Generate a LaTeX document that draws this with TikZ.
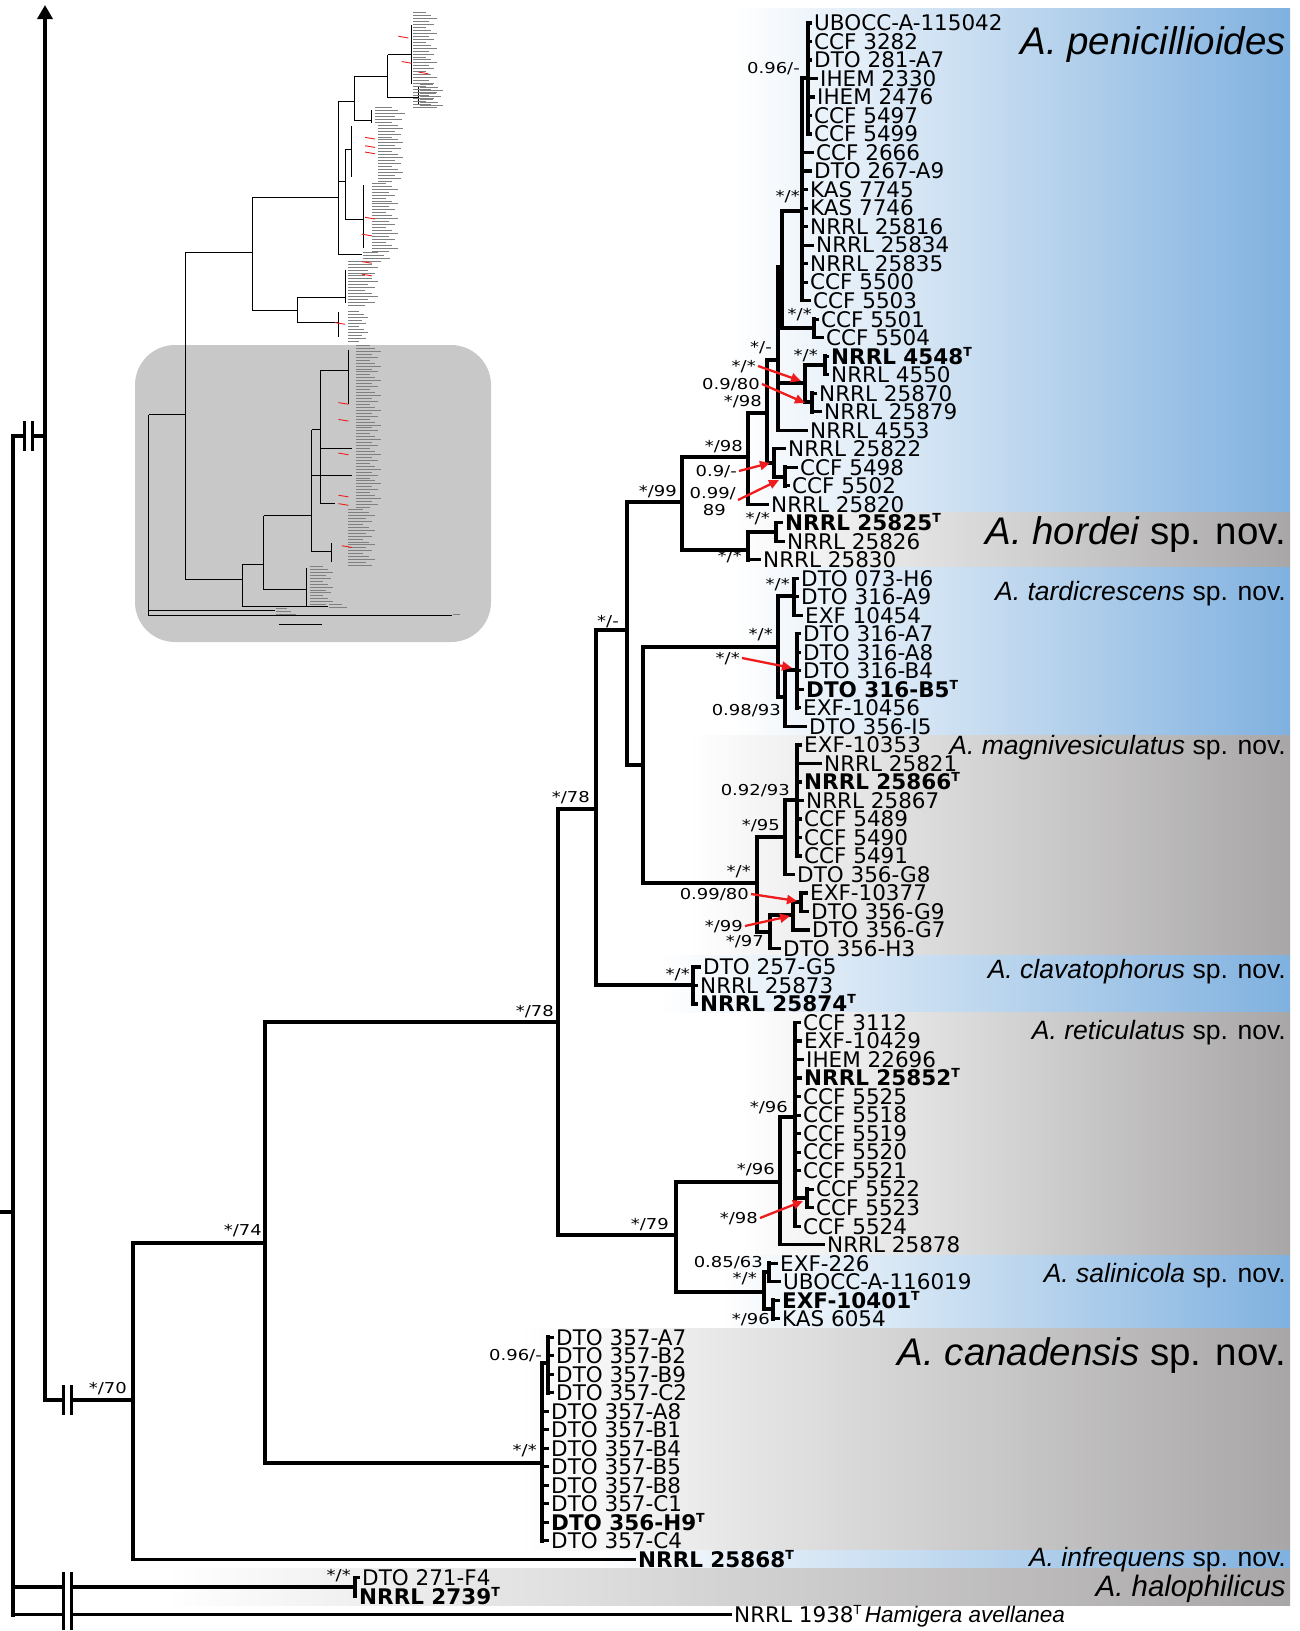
\documentclass[tikz,border=0pt]{standalone}
\usepackage{fontspec}
\setmainfont{DejaVu Sans}
\newfontfamily\supfont[FakeStretch=1.2]{DejaVu Sans}
\newfontfamily\spfont{Liberation Sans}
\usetikzlibrary{arrows.meta,calc}
\definecolor{bandblue}{HTML}{80B1DF}
\definecolor{bandgrey}{HTML}{A8A6A6}
\definecolor{thumbgrey}{HTML}{C8C8C8}
\definecolor{arrowred}{HTML}{EE1C1C}
\newcommand\tsup{\raisebox{8pt}{\fontsize{12.5}{12.5}\selectfont T}}
\newcommand\txfont{\fontsize{21.5}{22}\selectfont}
\newcommand\supsize{\supfont\fontsize{15}{15}\selectfont}
\newcommand\spbig{\spfont\fontsize{38.5}{39}\selectfont}
\newcommand\spmed{\spfont\fontsize{26.5}{27}\selectfont}
\newcommand\clade[6]{%
  \coordinate (#1) at ({#2},{#3});
  \draw[br] ({#2},{#4}) -- ({#2},{#5});
  \draw[br] (#6 |- #1) -- (#1);}
\newcommand\tip[5]{%
  \node[taxon] (#1) at ({#4-2.5},{ry(#3)}) {#5};
  \draw[tipl] (#2 |- #1.west) -- (#1.west);}
\newcommand\sv[4]{\node[sup] (#1) at ({#2},{#3}) {#4};}
\newcommand\brk[2]{%
  \fill[white] ({#1},{#2-3}) rectangle ({#1+8},{#2+3});
  \draw[brkl] ({#1},{#2-15}) -- ({#1},{#2+15});
  \draw[brkl] ({#1+8},{#2-15}) -- ({#1+8},{#2+15});}
\newcommand\lblcol[4]{%
  \foreach \k in {0,...,#3}{%
    \pgfmathsetmacro\ll{#4*(0.55+0.45*mod(\k*7,5)/4)}
    \draw[thlab] ({#1},{#2+7*\k}) -- ++(\ll,0);}}
\begin{document}
\begin{tikzpicture}[x=1pt,y=-1pt,
  declare function={ry(\n)=23+18.51*(\n-1);},
  br/.style={line width=3.6pt,line cap=rect},
  tipl/.style={line width=3.2pt,line cap=butt},
  brkl/.style={line width=3.6pt,line cap=butt},
  taxon/.style={anchor=west,inner xsep=2.5pt,inner ysep=0pt,font=\txfont,text height=15.7pt,text depth=0pt},
  sup/.style={anchor=east,inner sep=0pt,text height=11pt,text depth=0pt,font=\supsize},
  spl/.style={anchor=base east,inner sep=0pt},
  redarr/.style={draw=arrowred,line width=2.3pt,-{Triangle[length=10pt,width=9pt]}},
  thl/.style={line width=0.7pt},
  thlab/.style={line width=0.8pt,draw=black!50}]
\useasboundingbox (0,0) rectangle (1300,1631);
\fill[white] (0,0) rectangle (1300,1631);
% ---------- bands
\shade[left color=white,right color=bandblue] (735,8) rectangle (1290,512);
\shade[left color=white,right color=bandgrey] (735,512) rectangle (1290,567);
\shade[left color=white,right color=bandblue] (735,567) rectangle (1290,735);
\shade[left color=white,right color=bandgrey] (690,735) rectangle (1290,955);
\shade[left color=white,right color=bandblue] (660,955) rectangle (1290,1012);
\shade[left color=white,right color=bandgrey] (740,1012) rectangle (1290,1255);
\shade[left color=white,right color=bandblue] (720,1255) rectangle (1290,1328);
\shade[left color=white,right color=bandgrey] (520,1328) rectangle (1290,1550);
\shade[left color=white,right color=bandblue] (600,1550) rectangle (1290,1568);
\shade[left color=white,right color=bandgrey] (165,1568) rectangle (1290,1605);
% ---------- thumbnail
\fill[thumbgrey,rounded corners=40pt] (135,345) rectangle (491,642);
\begin{scope}[shift={(118.7,0.1)},xscale=0.333,yscale=0.421]
  \draw[thl] (90,985)--(90,1462);
  \draw[thl] (90,985)--(200,985) (200,600)--(200,1375);
  \draw[thl] (200,600)--(400,600) (400,468)--(400,738);
  \draw[thl] (400,468)--(660,468) (660,240)--(660,605);
  \draw[thl] (660,240)--(708,240) (708,180)--(708,285);
  \draw[thl] (708,180)--(808,180) (808,130)--(808,232);
  \draw[thl] (808,130)--(880,130) (880,60)--(880,200);
  \draw[thl] (808,232)--(900,232) (900,205)--(900,250);
  \draw[thl] (708,285)--(760,285) (760,262)--(760,292);
  \draw[thl] (660,430)--(680,430) (680,355)--(680,520);
  \draw[thl] (680,355)--(700,355) (700,300)--(700,420);
  \draw[thl] (680,520)--(735,520) (735,440)--(735,590);
  \draw[thl] (660,605)--(730,605);
  \draw[thl] (400,738)--(535,738) (535,705)--(535,765);
  \draw[thl] (535,705)--(680,705) (680,640)--(680,720);
  \draw[thl] (535,765)--(660,765) (660,740)--(660,800);
  \draw[thl] (200,1375)--(370,1375) (370,1340)--(370,1440);
  \draw[thl] (370,1440)--(630,1440);
  \draw[thl] (370,1340)--(435,1340) (435,1225)--(435,1400);
  \draw[thl] (435,1400)--(565,1400) (565,1350)--(565,1440);
  \draw[thl] (435,1225)--(580,1225) (580,1020)--(580,1310);
  \draw[thl] (580,1310)--(640,1310) (640,1290)--(640,1335);
  \draw[thl] (580,1020)--(605,1020) (605,880)--(605,1195);
  \draw[thl] (605,1065)--(700,1065) (605,1195)--(650,1195);
  \draw[thl] (605,880)--(690,880) (690,830)--(690,960);
  \draw[thl] (580,1130)--(700,1130);
  \draw[thl] (90,1450)--(470,1450) (90,1462)--(1000,1462);
  \draw[thl] (480,1483)--(610,1483);
  \lblcol{885}{30}{32}{70}
  \lblcol{905}{200}{8}{70}
  \lblcol{770}{255}{5}{90}
  \lblcol{780}{290}{20}{75}
  \lblcol{760}{435}{23}{80}
  \lblcol{735}{600}{3}{80}
  \lblcol{690}{620}{15}{90}
  \lblcol{690}{740}{10}{60}
  \lblcol{712}{820}{55}{75}
  \lblcol{690}{1210}{19}{80}
  \lblcol{575}{1345}{13}{70}
  \lblcol{632}{1436}{1}{70}
  \lblcol{472}{1445}{2}{60}
  \lblcol{1005}{1458}{0}{35}
  \foreach \a/\b in {870/90,880/150,930/175,770/330,770/350,770/365,770/520,760/560,760/625,760/655,680/770,690/960,690/1000,690/1080,690/1180,690/1200,700/1300}
    \draw[arrowred,line width=0.9pt] ({\a-30},{\b-4})--(\a,\b);
\end{scope}
% ---------- backbone
\coordinate (root) at (13,1212);
\draw[br] (13,436) -- (13,{ry(87)});
\draw[br] (0,1212) -- (root);
\coordinate (up) at (45,436);
\draw[br] (root |- up) -- (up);
\draw[line width=3.6pt,-{Triangle[length=14pt,width=15pt]}] (45,1401.8) -- (45,5);
\clade{n70}{133}{1400}{1243}{ry(84)}{up}
\clade{n74}{265}{1243}{1022}{1463}{n70}
\clade{ncan}{542}{1463}{1363}{ry(83)}{n74}
\clade{ncan2}{548}{1363}{ry(72)}{ry(75)}{ncan}
\clade{n78b}{558}{1022}{809}{1235}{n74}
\clade{n78a}{596}{809}{630}{985}{n78b}
\clade{nR1}{627}{630}{502}{765}{n78a}
\clade{n99}{682}{502}{457}{550}{nR1}
\clade{nQ}{748}{457}{413}{ry(27)}{n99}
\clade{nS}{767}{413}{360}{463}{nQ}
\clade{nD}{778}{360}{267}{ry(23)}{nS}
\clade{nE}{782}{267}{211}{328}{nD}
\clade{nB}{802}{211}{78}{ry(16)}{nE}
\clade{nA}{808}{78}{ry(1)}{ry(7)}{nB}
\clade{nF}{814}{328}{ry(17)}{ry(18)}{nE}
\clade{nG}{805}{383}{365}{402}{nD}
\clade{nG1}{825}{365}{ry(19)}{ry(20)}{nG}
\clade{nG2}{812}{402}{ry(21)}{ry(22)}{nG}
\clade{nC}{774}{463}{ry(24)}{477}{nS}
\clade{nC2}{785}{477}{ry(25)}{ry(26)}{nC}
\clade{nhor}{748}{550}{532}{ry(30)}{n99}
\clade{nhor2}{776}{532}{ry(28)}{ry(29)}{nhor}
\clade{nTM}{643}{765}{647}{883}{nR1}
\clade{ntard}{778}{647}{596}{697}{nTM}
\clade{nt1}{794}{596}{ry(31)}{ry(33)}{ntard}
\clade{nt2}{785}{697}{670}{ry(39)}{ntard}
\clade{nt3}{797}{670}{ry(34)}{ry(38)}{nt2}
\clade{nmag}{757}{883}{837}{932}{nTM}
\clade{nm95}{785}{837}{800}{ry(47)}{nmag}
\clade{nm92}{797}{800}{ry(40)}{ry(46)}{nm95}
\clade{nm97}{770}{932}{915}{ry(51)}{nmag}
\clade{nm99}{793}{915}{902}{ry(50)}{nm97}
\clade{nm80}{801}{902}{ry(48)}{ry(49)}{nm99}
\clade{nclav}{693}{985}{ry(52)}{ry(54)}{n78a}
\clade{n79}{676}{1235}{1182}{1292}{n78b}
\clade{n96b}{780}{1182}{1117}{ry(67)}{n79}
\clade{nret}{795}{1117}{ry(55)}{ry(66)}{n96b}
\clade{n98r}{807}{1198}{ry(64)}{ry(65)}{nret}
\clade{nsal}{764}{1292}{1272}{1309}{n79}
\clade{nsal1}{769}{1272}{ry(68)}{ry(69)}{nsal}
\clade{nsal2}{773}{1309}{ry(70)}{ry(71)}{nsal}
\clade{nhal}{355}{1587}{ry(85)}{ry(86)}{root}
% ---------- tips
\tip{t1}{nA}{1}{814}{UBOCC-A-115042}
\tip{t2}{nA}{2}{814}{CCF 3282}
\tip{t3}{nA}{3}{814}{DTO 281-A7}
\tip{t4}{nA}{4}{820}{IHEM 2330}
\tip{t5}{nA}{5}{817}{IHEM 2476}
\tip{t6}{nA}{6}{814}{CCF 5497}
\tip{t7}{nA}{7}{814}{CCF 5499}
\tip{t8}{nB}{8}{816}{CCF 2666}
\tip{t9}{nB}{9}{814}{DTO 267-A9}
\tip{t10}{nB}{10}{810}{KAS 7745}
\tip{t11}{nB}{11}{810}{KAS 7746}
\tip{t12}{nB}{12}{810}{NRRL 25816}
\tip{t13}{nB}{13}{816}{NRRL 25834}
\tip{t14}{nB}{14}{810}{NRRL 25835}
\tip{t15}{nB}{15}{810}{CCF 5500}
\tip{t16}{nB}{16}{813}{CCF 5503}
\tip{t17}{nF}{17}{821}{CCF 5501}
\tip{t18}{nF}{18}{826}{CCF 5504}
\tip{t19}{nG1}{19}{831}{\bfseries NRRL 4548\tsup}
\tip{t20}{nG1}{20}{831}{NRRL 4550}
\tip{t21}{nG2}{21}{819}{NRRL 25870}
\tip{t22}{nG2}{22}{824}{NRRL 25879}
\tip{t23}{nD}{23}{810}{NRRL 4553}
\tip{t24}{nC}{24}{788}{NRRL 25822}
\tip{t25}{nC2}{25}{800}{CCF 5498}
\tip{t26}{nC2}{26}{792}{CCF 5502}
\tip{t27}{nQ}{27}{771}{NRRL 25820}
\tip{t28}{nhor2}{28}{785}{\bfseries NRRL 25825\tsup}
\tip{t29}{nhor2}{29}{787}{NRRL 25826}
\tip{t30}{nhor}{30}{763}{NRRL 25830}
\tip{t31}{nt1}{31}{801}{DTO 073-H6}
\tip{t32}{nt1}{32}{801}{DTO 316-A9}
\tip{t33}{nt1}{33}{805}{EXF 10454}
\tip{t34}{nt3}{34}{803}{DTO 316-A7}
\tip{t35}{nt3}{35}{803}{DTO 316-A8}
\tip{t36}{nt3}{36}{803}{DTO 316-B4}
\tip{t37}{nt3}{37}{806}{\bfseries DTO 316-B5\tsup}
\tip{t38}{nt3}{38}{803}{EXF-10456}
\tip{t39}{nt2}{39}{809}{DTO 356-I5}
\tip{t40}{nm92}{40}{804}{EXF-10353}
\tip{t41}{nm92}{41}{824}{NRRL 25821}
\tip{t42}{nm92}{42}{804}{\bfseries NRRL 25866\tsup}
\tip{t43}{nm92}{43}{806}{NRRL 25867}
\tip{t44}{nm92}{44}{804}{CCF 5489}
\tip{t45}{nm92}{45}{804}{CCF 5490}
\tip{t46}{nm92}{46}{804}{CCF 5491}
\tip{t47}{nm95}{47}{797}{DTO 356-G8}
\tip{t48}{nm80}{48}{810}{EXF-10377}
\tip{t49}{nm80}{49}{811}{DTO 356-G9}
\tip{t50}{nm99}{50}{812}{DTO 356-G7}
\tip{t51}{nm97}{51}{783}{DTO 356-H3}
\tip{t52}{nclav}{52}{703}{DTO 257-G5}
\tip{t53}{nclav}{53}{700}{NRRL 25873}
\tip{t54}{nclav}{54}{700}{\bfseries NRRL 25874\tsup}
\tip{t55}{nret}{55}{803}{CCF 3112}
\tip{t56}{nret}{56}{804}{EXF-10429}
\tip{t57}{nret}{57}{806}{IHEM 22696}
\tip{t58}{nret}{58}{804}{\bfseries NRRL 25852\tsup}
\tip{t59}{nret}{59}{803}{CCF 5525}
\tip{t60}{nret}{60}{803}{CCF 5518}
\tip{t61}{nret}{61}{803}{CCF 5519}
\tip{t62}{nret}{62}{803}{CCF 5520}
\tip{t63}{nret}{63}{803}{CCF 5521}
\tip{t64}{n98r}{64}{816}{CCF 5522}
\tip{t65}{n98r}{65}{816}{CCF 5523}
\tip{t66}{nret}{66}{803}{CCF 5524}
\tip{t67}{n96b}{67}{827}{NRRL 25878}
\tip{t68}{nsal1}{68}{780}{EXF-226}
\tip{t69}{nsal1}{69}{783}{UBOCC-A-116019}
\tip{t70}{nsal2}{70}{782}{\bfseries EXF-10401\tsup}
\tip{t71}{nsal2}{71}{782}{KAS 6054}
\tip{t72}{ncan2}{72}{556}{DTO 357-A7}
\tip{t73}{ncan2}{73}{556}{DTO 357-B2}
\tip{t74}{ncan2}{74}{556}{DTO 357-B9}
\tip{t75}{ncan2}{75}{556}{DTO 357-C2}
\tip{t76}{ncan}{76}{551}{DTO 357-A8}
\tip{t77}{ncan}{77}{551}{DTO 357-B1}
\tip{t78}{ncan}{78}{551}{DTO 357-B4}
\tip{t79}{ncan}{79}{551}{DTO 357-B5}
\tip{t80}{ncan}{80}{551}{DTO 357-B8}
\tip{t81}{ncan}{81}{551}{DTO 357-C1}
\tip{t82}{ncan}{82}{551}{\bfseries DTO 356-H9\tsup}
\tip{t83}{ncan}{83}{551}{DTO 357-C4}
\tip{t84}{n70}{84}{638}{\bfseries NRRL 25868\tsup}
\tip{t85}{nhal}{85}{362}{DTO 271-F4}
\tip{t86}{nhal}{86}{359}{\bfseries NRRL 2739\tsup}
\tip{t87}{root}{87}{734}{NRRL 1938\tsup\,{\spfont\fontsize{22.5}{23}\selectfont\itshape Hamigera avellanea}}
% ---------- breaks
\brk{24.5}{436}
\brk{63.5}{1400}
\brk{63.5}{1587}
\brk{63.5}{ry(87)}
% ---------- support values
\sv{L1}{800}{68}{0.96/-}
\sv{L2}{800}{196}{*/*}
\sv{L3}{812}{314}{*/*}
\sv{L4}{772}{347}{*/-}
\sv{L5}{756}{366}{*/*}
\sv{L6}{818}{355}{*/*}
\sv{L7}{760}{384}{0.9/80}
\sv{L8}{762}{401}{*/98}
\sv{L9}{743}{446}{*/98}
\sv{L10}{737}{471}{0.9/-}
\sv{L11}{736}{493}{0.99/}
\sv{L11b}{726}{510}{89}
\sv{L12}{677}{491}{*/99}
\sv{L13}{770}{518}{*/*}
\sv{L14}{742}{556}{*/*}
\sv{L15}{619}{621}{*/-}
\sv{L16}{790}{584}{*/*}
\sv{L17}{773}{634}{*/*}
\sv{L18}{740}{658}{*/*}
\sv{L19}{781}{710}{0.98/93}
\sv{L20}{590}{797}{*/78}
\sv{L21}{790}{790}{0.92/93}
\sv{L22}{780}{825}{*/95}
\sv{L23}{751}{871}{*/*}
\sv{L24}{749}{894}{0.99/80}
\sv{L25}{743}{926}{*/99}
\sv{L26}{764}{941}{*/97}
\sv{L27}{690}{974}{*/*}
\sv{L28}{554}{1011}{*/78}
\sv{L29}{788}{1107}{*/96}
\sv{L30}{775}{1169}{*/96}
\sv{L31}{758}{1218}{*/98}
\sv{L32}{669}{1224}{*/79}
\sv{L33}{763}{1262}{0.85/63}
\sv{L34}{757}{1278}{*/*}
\sv{L35}{770}{1319}{*/96}
\sv{L36}{542}{1355}{0.96/-}
\sv{L37}{537}{1450}{*/*}
\sv{L38}{262}{1230}{*/74}
\sv{L39}{127}{1388}{*/70}
\sv{L40}{351}{1575}{*/*}
% ---------- red arrows
\draw[redarr] ([xshift=2pt]L5.east) -- ($(nG)+(-4,-2)$);
\draw[redarr] ([xshift=2pt]L7.east) -- ($(nG2)+(-7,1)$);
\draw[redarr] ([xshift=2pt]L10.east) -- ($(nC)+(-4,0)$);
\draw[redarr] ($(L11.east)+(2,7)$) -- ($(nC2)+(-6,3)$);
\draw[redarr] ([xshift=2pt]L18.east) -- ($(nt3)+(-5,-2)$);
\draw[redarr] ([xshift=2pt]L24.east) -- ($(nm80)+(-4,-1)$);
\draw[redarr] ([xshift=2pt]L25.east) -- ($(nm99)+(-3,1)$);
\draw[redarr] ([xshift=2pt]L31.east) -- ($(n98r)+(-4,3)$);
% ---------- species names
\node[spl] (sp1) at (1286,54) {\spbig\itshape A. penicillioides};
\node[spl] (sp2) at (1286,544) {\spbig{\itshape A. hordei} sp. nov.};
\node[spl] (sp3) at (1286,600) {\spmed{\itshape A. tardicrescens} sp. nov.};
\node[spl] (sp4) at (1286,754) {\spmed{\itshape A. magnivesiculatus} sp. nov.};
\node[spl] (sp5) at (1286,978) {\spmed{\itshape A. clavatophorus} sp. nov.};
\node[spl] (sp6) at (1286,1039) {\spmed{\itshape A. reticulatus} sp. nov.};
\node[spl] (sp7) at (1286,1282) {\spmed{\itshape A. salinicola} sp. nov.};
\node[spl] (sp8) at (1286,1365) {\spbig{\itshape A. canadensis} sp. nov.};
\node[spl] (sp9) at (1286,1566) {\spmed{\itshape A. infrequens} sp. nov.};
\node[spl] (sp10) at (1286,1596) {\spfont\fontsize{29.5}{30}\selectfont\itshape A. halophilicus};
\end{tikzpicture}
\end{document}
